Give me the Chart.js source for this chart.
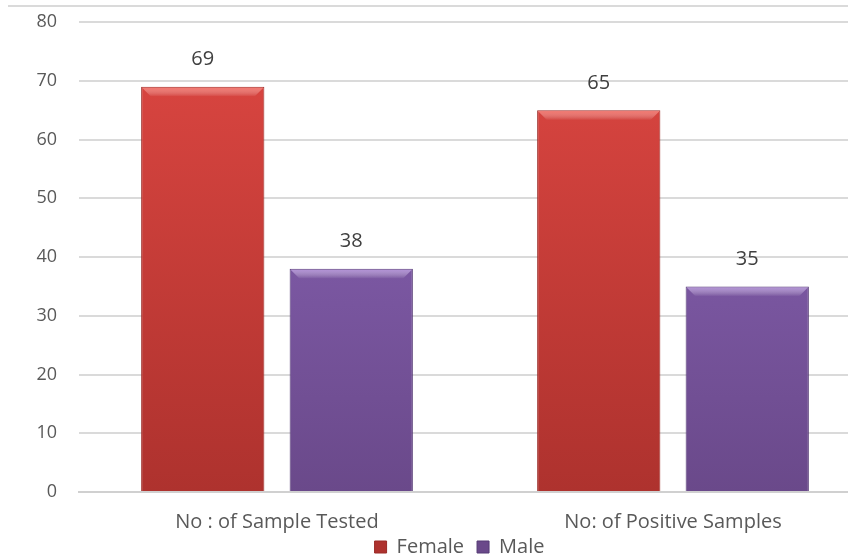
<!DOCTYPE html>
<html lang="en">
<head>
    <meta charset="UTF-8">
    <title>Samples by Gender</title>
    <script src="https://cdn.jsdelivr.net/npm/chart.js"></script>
    <style>
        body { margin: 0; overflow: hidden; background: #fff; }
        #wrap { position: relative; width: 880px; height: 559px; }
        #topline { position: absolute; left: 8px; top: 5px; width: 872px; height: 0; border-top: 2px solid #DADADA; }
    </style>
</head>
<body>
    <div id="wrap">
        <div id="topline"></div>
        <canvas id="chart" width="880" height="559"></canvas>
    </div>

    <script>
        const categories = ['No : of Sample Tested', 'No: of Positive Samples'];
        const femaleValues = [69, 65];
        const maleValues = [38, 35];
        const yTicks = [0, 10, 20, 30, 40, 50, 60, 70, 80];

        const fontFamily = '"Open Sans", "DejaVu Sans", sans-serif';
        const textColor = '#595959';

        // vertical shading over the plot height, light at top, darker at the base
        function shade(top, bottom) {
            return ctx => {
                const area = ctx.chart.chartArea;
                if (!area) return top;
                const g = ctx.chart.ctx.createLinearGradient(0, area.top, 0, area.bottom);
                g.addColorStop(0, top);
                g.addColorStop(1, bottom);
                return g;
            };
        }

        // top bevel highlight on each bar
        const bevel = {
            id: 'bevel',
            afterDatasetsDraw(chart) {
                const c = chart.ctx;
                const lights = ['rgba(255,140,130,0.7)', 'rgba(200,170,235,0.7)'];
                c.save();
                chart.data.datasets.forEach((ds, i) => {
                    chart.getDatasetMeta(i).data.forEach(bar => {
                        const l = bar.x - bar.width / 2 + 1, r = bar.x + bar.width / 2 - 1;
                        const t = bar.y + 1, h = 9;
                        const g = c.createLinearGradient(0, t, 0, t + h);
                        g.addColorStop(0, lights[i]);
                        g.addColorStop(1, 'rgba(255,255,255,0)');
                        c.fillStyle = g;
                        c.beginPath();
                        c.moveTo(l, t);
                        c.lineTo(r, t);
                        c.lineTo(r - h, t + h);
                        c.lineTo(l + h, t + h);
                        c.closePath();
                        c.fill();
                    });
                });
                c.restore();
            }
        };

        // value labels above each bar
        const valueLabels = {
            id: 'valueLabels',
            afterDatasetsDraw(chart) {
                const c = chart.ctx;
                c.save();
                c.font = '20px ' + fontFamily;
                c.fillStyle = '#404040';
                c.textAlign = 'center';
                c.textBaseline = 'middle';
                chart.data.datasets.forEach((ds, i) => {
                    chart.getDatasetMeta(i).data.forEach((bar, j) => {
                        c.fillText(ds.data[j], bar.x, bar.y - 27);
                    });
                });
                c.restore();
            }
        };

        // nudge the legend to sit where the original one does
        const legendShift = {
            id: 'legendShift',
            afterLayout(chart) {
                const lg = chart.legend;
                lg.left += 24;
                lg.right += 24;
                lg.top -= 10;
            }
        };

        new Chart(document.getElementById('chart'), {
            type: 'bar',
            data: {
                labels: categories,
                datasets: [
                    {
                        label: 'Female',
                        data: femaleValues,
                        backgroundColor: shade('#DD4742', '#AE322E'),
                        borderColor: '#9A2A26',
                        borderWidth: 1
                    },
                    {
                        label: 'Male',
                        data: maleValues,
                        backgroundColor: shade('#8D67BC', '#6A498A'),
                        borderColor: '#553A75',
                        borderWidth: 1
                    }
                ]
            },
            options: {
                responsive: false,
                animation: false,
                categoryPercentage: 0.75,
                barPercentage: 0.83,
                layout: { padding: { top: 22, right: 9, left: 0, bottom: 0 } },
                plugins: {
                    legend: {
                        position: 'bottom',
                        maxHeight: 25,
                        labels: {
                            boxWidth: 12,
                            boxHeight: 12,
                            padding: 13,
                            color: textColor,
                            font: { family: fontFamily, size: 20 }
                        }
                    },
                    tooltip: { enabled: false }
                },
                scales: {
                    x: {
                        afterFit: scale => { scale.height = 42; },
                        grid: { display: false },
                        border: { display: true, color: '#D0D0D0', width: 2 },
                        ticks: {
                            color: textColor,
                            padding: 10,
                            font: { family: fontFamily, size: 20 }
                        }
                    },
                    y: {
                        min: 0,
                        max: 80,
                        afterBuildTicks: scale => { scale.ticks = yTicks.map(v => ({ value: v })); },
                        afterFit: scale => { scale.width = 79; },
                        grid: { color: '#DADADA', lineWidth: 2, drawTicks: true, tickLength: 22, tickColor: 'rgba(0,0,0,0)' },
                        border: { display: false },
                        ticks: {
                            color: textColor,
                            padding: 0,
                            font: { family: fontFamily, size: 18 }
                        }
                    }
                }
            },
            plugins: [bevel, valueLabels, legendShift]
        });
    </script>
</body>
</html>
